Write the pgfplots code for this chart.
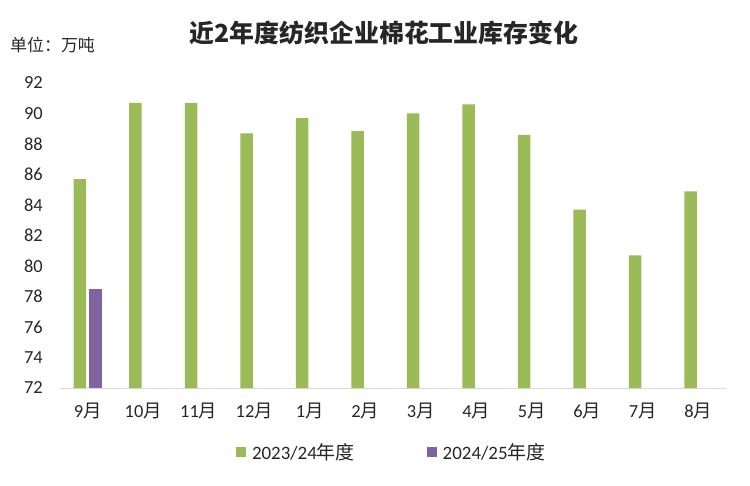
\documentclass[border=0pt]{standalone}
\usepackage{pgfplots}
\pgfplotsset{compat=1.18}
\usepackage{fontspec}
\setmainfont{Carlito}
\newfontfamily\cjk{Noto Sans CJK SC}
\definecolor{cgreen}{HTML}{9BBB59}
\definecolor{cpurple}{HTML}{8064A2}
\definecolor{caxis}{HTML}{D9D9D9}
\definecolor{ctext}{HTML}{262626}
\newcommand{\yue}{{\cjk 月}}
\begin{document}
\begin{tikzpicture}
\useasboundingbox (-60bp,-98bp) rectangle (690bp,388bp);
\begin{axis}[
  at={(0,0)}, anchor=south west,
  width=666bp, height=305bp, scale only axis,
  ymin=72, ymax=92, ytick={72,74,...,92},
  xmin=-0.5, xmax=11.5, xtick={0,...,11},
  xticklabels={9\yue,10\yue,11\yue,12\yue,1\yue,2\yue,3\yue,4\yue,5\yue,6\yue,7\yue,8\yue},
  axis x line=bottom, axis y line=left,
  x axis line style={draw=caxis, line width=1bp, -},
  y axis line style={draw=none},
  major tick length=0pt,
  /pgf/number format/assume math mode=true,
  tick label style={font=\fontsize{18.5}{20}\selectfont, text=ctext},
  yticklabel style={anchor=east, inner sep=0pt, xshift=-17bp},
  xticklabel style={anchor=center, inner sep=0pt, yshift=-23bp},
  ybar, bar width=12.5bp,
  legend columns=2,
  legend style={at={(0.264,-0.21)}, anchor=west, draw=none, fill=none, inner sep=0pt,
    font=\fontsize{19}{21}\selectfont, text=ctext,
    column sep=4bp,
    /tikz/every even column/.append style={column sep=70bp}},
  legend image code/.code={\fill[#1] (0bp,-5bp) rectangle (10bp,5bp);},
]
\addplot[fill=cgreen, draw=none, bar shift=-7.75bp] coordinates {
(0,85.7) (1,90.7) (2,90.7) (3,88.7) (4,89.7) (5,88.85) (6,90.0) (7,90.6) (8,88.6) (9,83.7) (10,80.7) (11,84.9)};
\addlegendentry{2023/24{\cjk 年度}}
\addplot[fill=cpurple, draw=none, bar shift=7.75bp] coordinates {(0,78.5)};
\addlegendentry{2024/25{\cjk 年度}}
\end{axis}
\node[font=\cjk\bfseries\fontsize{25}{27}\selectfont, text=ctext] at (324bp,355bp) {近2年度纺织企业棉花工业库存变化};
\node[anchor=west, inner sep=0pt, font=\cjk\fontsize{17}{19}\selectfont, text=ctext] at (-50bp,343bp) {单位：万吨};
\end{tikzpicture}
\end{document}
